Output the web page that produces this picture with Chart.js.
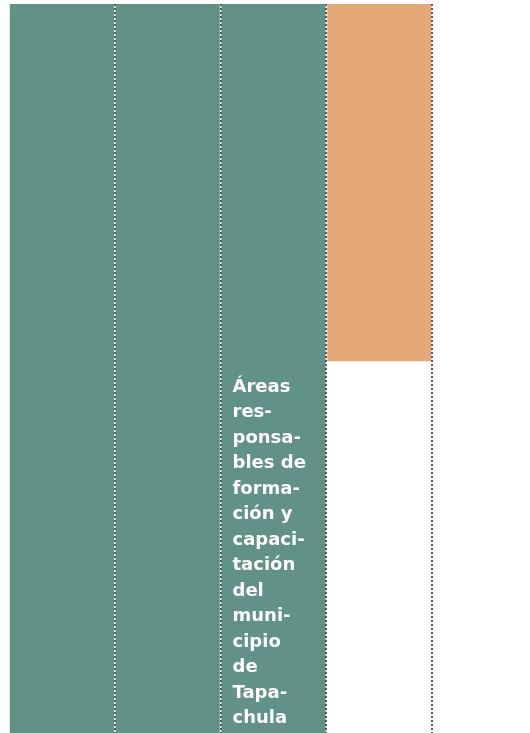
<!DOCTYPE html>
<html lang="es">
<head>
  <meta charset="UTF-8">
  <title>Áreas responsables</title>
  <script src="https://cdn.jsdelivr.net/npm/chart.js"></script>
  <style>
    html, body { margin: 0; padding: 0; overflow: hidden; background: #fff; }
    .wrap { width: 538px; height: 733px; position: relative; }
  </style>
</head>
<body>
  <div class="wrap"><canvas id="chart"></canvas></div>

  <script>
    const categories = ['1', '2', '3', '4', '5'];
    const tealValues = [100, 100, 100, 0, 0];
    const orangeValues = [0, 0, 0, 49, 0];
    const labelIndex = 2;
    const labelLines = ['Áreas', 'res-', 'ponsa-', 'bles de', 'forma-', 'ción y', 'capaci-',
      'tación', 'del', 'muni-', 'cipio', 'de', 'Tapa-', 'chula'];

    const barLabel = {
      id: 'barLabel',
      afterDatasetsDraw(chart) {
        const { ctx, scales, chartArea } = chart;
        const x = scales.x.getPixelForValue(labelIndex) - 41;
        const lh = 25.5;
        ctx.save();
        ctx.fillStyle = '#ffffff';
        ctx.font = 'bold 18px "DejaVu Sans", sans-serif';
        ctx.textBaseline = 'alphabetic';
        labelLines.forEach((t, i) => {
          const y = chartArea.bottom - 10 - (labelLines.length - 1 - i) * lh;
          ctx.fillText(t, x, y);
        });
        ctx.restore();
      }
    };

    new Chart(document.getElementById('chart'), {
      type: 'bar',
      data: {
        labels: categories,
        datasets: [
          { data: tealValues, backgroundColor: '#629187' },
          { data: orangeValues, backgroundColor: '#e5a877' }
        ]
      },
      options: {
        responsive: true,
        maintainAspectRatio: false,
        animation: false,
        layout: { padding: { left: 9, top: 4, right: 0, bottom: 0 } },
        datasets: { bar: { barPercentage: 1, categoryPercentage: 0.985, grouped: false } },
        plugins: { legend: { display: false }, tooltip: { enabled: false } },
        scales: {
          x: {
            ticks: { display: false },
            grid: {
              z: 1,
              drawTicks: false,
              offset: true,
              lineWidth: 2,
              color: ctx => ctx.index === 0 ? 'rgba(0,0,0,0)' : '#5a5a5a'
            },
            border: { display: false, dash: [2, 2] }
          },
          y: {
            display: false,
            reverse: true,
            min: 0,
            max: 100
          }
        }
      },
      plugins: [barLabel]
    });
  </script>
</body>
</html>
